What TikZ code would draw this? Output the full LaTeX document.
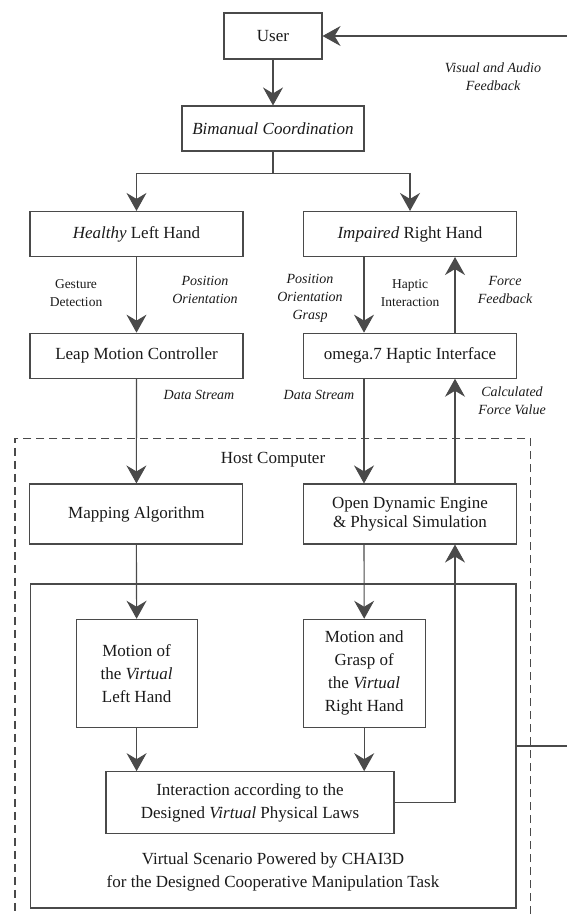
\documentclass[tikz,border=0pt]{standalone}
\usepackage{fontspec}
\setmainfont{Liberation Serif}
\usetikzlibrary{arrows.meta}
\definecolor{linec}{HTML}{4A4A4A}
\definecolor{textc}{HTML}{1A1A1A}
\tikzset{
  box/.style={draw=linec, line width=1.1pt, inner sep=0pt, align=center, text=textc,
    font=\fontsize{17}{23}\selectfont},
  lbl/.style={inner sep=0pt, align=center, text=textc, font=\fontsize{14}{18}\selectfont},
  ilbl/.style={lbl, font=\fontsize{14}{18}\selectfont\itshape},
  conn/.style={draw=linec, line width=1.1pt},
  arr/.style={conn, -{Stealth[length=18pt,width=20pt,inset=6pt]}},
}
\begin{document}
\begin{tikzpicture}[x=1pt,y=-1pt]
\useasboundingbox (0,0) rectangle (566,915);
\coordinate (colR) at (364,0);
\coordinate (colF) at (455,0);
% boxes
\node[box, minimum width=98pt, minimum height=46pt] (user) at (273,36) {User};
\node[box, minimum width=182pt, minimum height=45pt] (bim) at (273,128.5) {\itshape Bimanual Coordination};
\node[box, minimum width=213pt, minimum height=45pt] (healthy) at (136.5,234) {\textit{Healthy} Left Hand};
\node[box, minimum width=213pt, minimum height=45pt] (impaired) at (410,234) {\textit{Impaired} Right Hand};
\node[box, minimum width=213pt, minimum height=45pt] (leap) at (136.5,355.7) {Leap Motion Controller};
\node[box, minimum width=213pt, minimum height=45pt] (omega) at (410,355.7) {omega.7 Haptic Interface};
\node[draw=linec, line width=1.1pt, dash pattern=on 8pt off 5pt, minimum width=515.7pt, minimum height=480pt, inner sep=0pt] (host) at (272.85,678.3) {};
\node[inner sep=0pt, text=textc, font=\fontsize{17}{23}\selectfont] (hosttxt) at (273,459.3) {Host Computer};
\node[box, minimum width=213pt, minimum height=60pt] (map) at (136.4,514) {Mapping Algorithm};
\node[box, minimum width=213pt, minimum height=60pt, font=\fontsize{17}{19.5}\selectfont] (ode) at (410,514) {Open Dynamic Engine\\ \& Physical Simulation};
\node[box, minimum width=485.3pt, minimum height=324pt] (inner) at (273.35,746) {};
\node[box, minimum width=121pt, minimum height=108pt] (motL) at (136.6,673.3) {Motion of\\ the \textit{Virtual}\\ Left Hand};
\node[box, minimum width=121.7pt, minimum height=108pt] (motR) at (364.2,673.3) {Motion and\\ Grasp of\\ the \textit{Virtual}\\ Right Hand};
\node[box, minimum width=288pt, minimum height=61.6pt] (inter) at (250,802.5) {Interaction according to the\\ Designed \textit{Virtual} Physical Laws};
\node[inner sep=0pt, align=center, text=textc, font=\fontsize{17}{23}\selectfont] (scen) at (273,871.5) {Virtual Scenario Powered by CHAI3D\\ for the Designed Cooperative Manipulation Task};
% labels
\node[ilbl] (lvis) at (493,76.5) {Visual and Audio\\ Feedback};
\node[lbl, font=\fontsize{13.5}{18}\selectfont] (lgest) at (76,293) {Gesture\\ Detection};
\node[ilbl] (lpos1) at (205,289.5) {Position\\ Orientation};
\node[ilbl] (lpos2) at (310,298.7) {Position\\ Orientation\\ Grasp};
\node[lbl, font=\fontsize{13.5}{18}\selectfont] (lhap) at (410,293) {Haptic\\ Interaction};
\node[ilbl] (lforce) at (505,289.5) {Force\\ Feedback};
\node[ilbl] (lds1) at (199,395) {Data Stream};
\node[ilbl] (lds2) at (319,395) {Data Stream};
\node[ilbl] (lcalc) at (512,400.5) {Calculated\\ Force Value};
% connectors
\draw[arr] (user) -- (bim);
\draw[conn] (bim.south) -- ++(0,22.3) coordinate (split);
\draw[arr] (split) -| (healthy.north);
\draw[arr] (split) -| (impaired.north);
\draw[arr] (healthy) -- (leap);
\draw[arr] (impaired.south -| colR) -- (omega.north -| colR);
\draw[arr] (omega.north -| colF) -- (impaired.south -| colF);
\draw[arr] (leap) -- (map);
\draw[arr] (omega.south -| colR) -- (ode.north -| colR);
\draw[arr] (ode.north -| colF) -- (omega.south -| colF);
\draw[arr] (map.south) -- (motL.north);
\draw[arr] (ode.south -| colR) -- (motR.north);
\draw[arr] (motL.south) -- (inter.north -| motL.south);
\draw[arr] (motR.south) -- (inter.north -| motR.south);
\draw[arr] (inter.east) -| (ode.south -| colF);
\coordinate (fbR) at (600,746);
\draw[arr] (inner.east) -- (fbR) |- (user.east);
\end{tikzpicture}
\end{document}
